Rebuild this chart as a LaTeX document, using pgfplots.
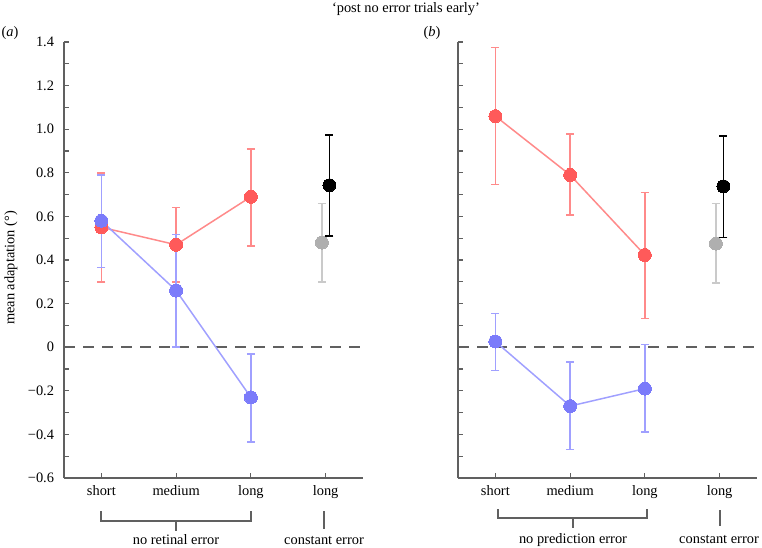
\documentclass[border=0pt]{standalone}
\usepackage{pgfplots}
\pgfplotsset{compat=1.18}
\usepackage{fontspec}
\setmainfont{Liberation Serif}
\definecolor{redm}{HTML}{FF5A5A}
\definecolor{redl}{HTML}{FF8A8A}
\definecolor{bluem}{HTML}{7B7BFA}
\definecolor{bluel}{HTML}{A0A0FF}
\definecolor{graym}{HTML}{AFAFAF}
\definecolor{grayl}{HTML}{CACACA}
\definecolor{axisgray}{HTML}{606060}
\begin{document}
\fontsize{14.4}{17}\selectfont
\begin{tikzpicture}[x=1pt,y=1pt]
\useasboundingbox (0,0) rectangle (762,-547);
\pgfplotsset{
  panel/.style={
    scale only axis, width=299pt, height=436pt,
    xmin=-0.5, xmax=3.5, ymin=-0.6, ymax=1.4,
    axis lines=left,
    axis line style={-, line width=1.6pt, color=axisgray},
    xtick={0,1,2,3}, xticklabels={short,medium,long,long},
    ytick={-0.6,-0.4,-0.2,0,0.2,0.4,0.6,0.8,1.0,1.2,1.4},
    minor ytick={-0.5,-0.3,-0.1,0.1,0.3,0.5,0.7,0.9,1.1,1.3},
    tick align=inside, major tick length=5pt, minor tick length=5pt,
    tick style={line width=1.2pt, color=axisgray},
    clip=false,
    ticklabel style={font=\fontsize{14.4}{17}\selectfont},
    xticklabel style={yshift=-2pt},
    yticklabel style={xshift=-5pt},
  },
  ser/.style={line width=1.5pt, color=#1l, mark=*, mark size=6.5pt,
    mark options={draw=#1m, fill=#1m, line width=0pt},
    error bars/.cd, y dir=both, y explicit,
    error bar style={line width=1.5pt, color=#1l},
    error mark options={rotate=90, mark size=4pt, line width=1.5pt, color=#1l}},
  single/.style 2 args={only marks, mark=*, mark size=6.5pt,
    mark options={draw=#2, fill=#2, line width=0pt},
    error bars/.cd, y dir=both, y explicit,
    error bar style={line width=1.5pt, color=#1},
    error mark options={rotate=90, mark size=4pt, line width=1.5pt, color=#1}},
  zero/.style={line width=1.5pt, color=axisgray, dash pattern=on 11pt off 8pt, mark=none},
}
% panel (a)
\begin{axis}[panel, at={(64pt,-478pt)}, anchor=south west,
  yticklabels={−0.6,−0.4,−0.2,0,0.2,0.4,0.6,0.8,1.0,1.2,1.4}]
\addplot[zero] coordinates {(-0.5,0) (3.5,0)};
\addplot[ser=red] coordinates {
 (0,0.55) += (0,0.25) -= (0,0.25)
 (1,0.47) += (0,0.17) -= (0,0.17)
 (2,0.69) += (0,0.22) -= (0,0.225)};
\addplot[ser=blue] coordinates {
 (0,0.58) += (0,0.21) -= (0,0.215)
 (1,0.26) += (0,0.257) -= (0,0.26)
 (2,-0.23) += (0,0.20) -= (0,0.204)};
\addplot[single={grayl}{graym}] coordinates {
 (2.95,0.48) += (0,0.18) -= (0,0.18)};
\addplot[single={black}{black}] coordinates {
 (3.05,0.743) += (0,0.23) -= (0,0.233)};
\end{axis}
% panel (b)
\begin{axis}[panel, at={(458pt,-478pt)}, anchor=south west,
  yticklabels={}]
\addplot[zero] coordinates {(-0.5,0) (3.5,0)};
\addplot[ser=red] coordinates {
 (0,1.06) += (0,0.314) -= (0,0.314)
 (1,0.79) += (0,0.187) -= (0,0.184)
 (2,0.423) += (0,0.287) -= (0,0.291)};
\addplot[ser=blue] coordinates {
 (0,0.026) += (0,0.129) -= (0,0.132)
 (1,-0.27) += (0,0.202) -= (0,0.2)
 (2,-0.19) += (0,0.202) -= (0,0.2)};
\addplot[single={grayl}{graym}] coordinates {
 (2.95,0.475) += (0,0.185) -= (0,0.181)};
\addplot[single={black}{black}] coordinates {
 (3.05,0.738) += (0,0.23) -= (0,0.234)};
\end{axis}
% titles
\node at (406,-9) {‘post no error trials early’};
\node at (10,-33) {(\textit{a})};
\node at (432,-33) {(\textit{b})};
\node[rotate=90] at (11,-268) {mean adaptation (°)};
% brackets
\draw[axisgray, line width=1.3pt] (101,-511) -- (101,-521) -- (251,-521) -- (251,-511);
\draw[axisgray, line width=1.3pt] (176,-521) -- (176,-531);
\draw[axisgray, line width=1.3pt] (324,-511) -- (324,-529);
\node[anchor=base] at (176,-544) {no retinal error};
\node[anchor=base] at (324,-544) {constant error};
\draw[axisgray, line width=1.3pt] (498,-509) -- (498,-518) -- (647,-518) -- (647,-509);
\draw[axisgray, line width=1.3pt] (573,-518) -- (573,-528);
\draw[axisgray, line width=1.3pt] (720,-510) -- (720,-526);
\node[anchor=base] at (573,-543) {no prediction error};
\node[anchor=base] at (719,-543) {constant error};
\end{tikzpicture}
\end{document}
